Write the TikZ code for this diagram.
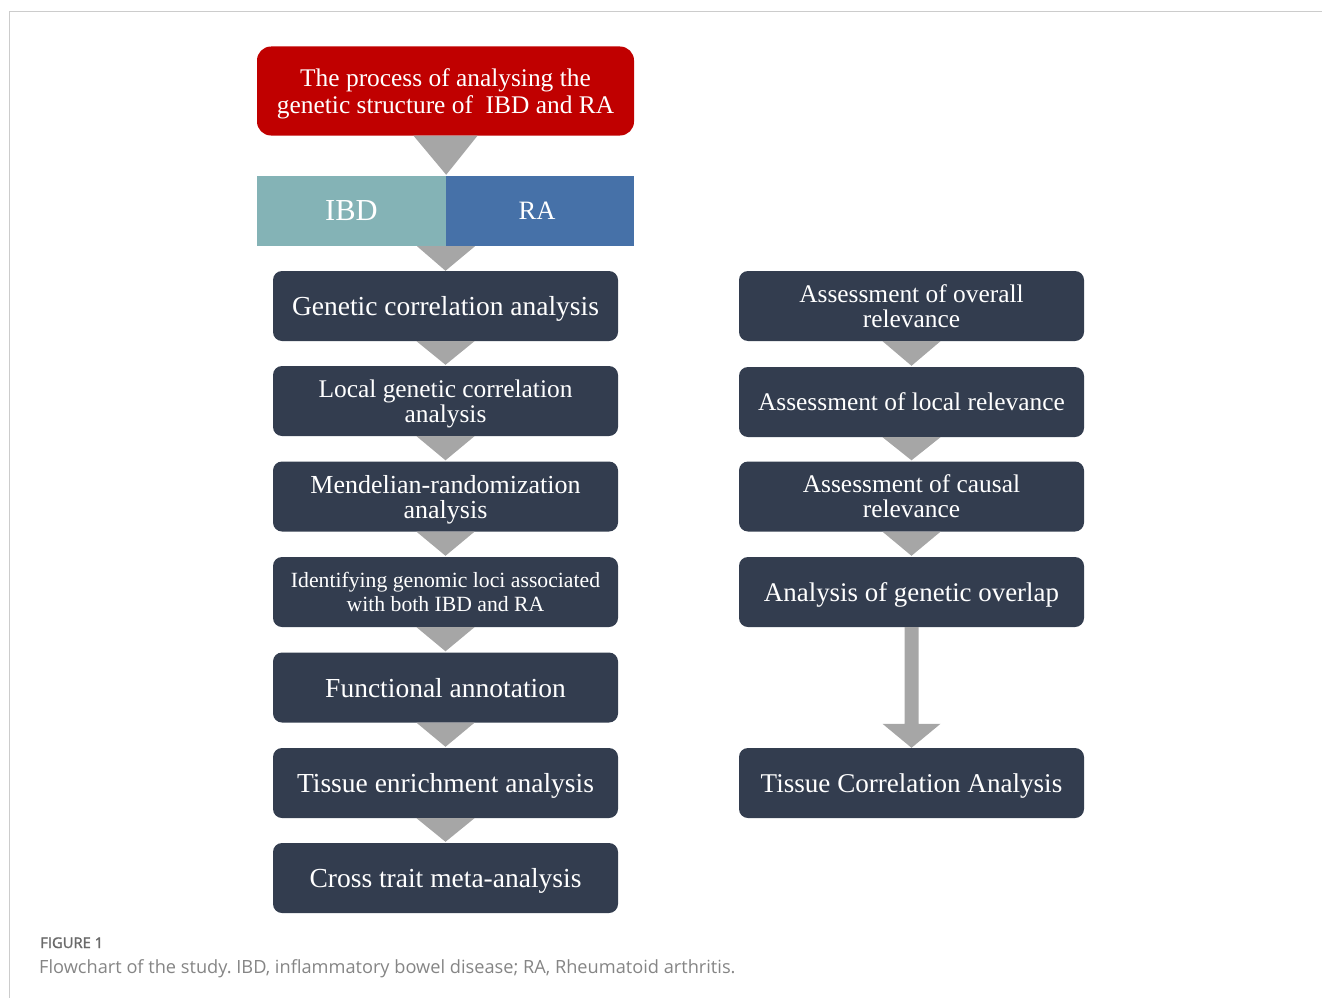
\documentclass[tikz,border=0pt]{standalone}
\usepackage{fontspec}
\setmainfont{Liberation Serif}
\newfontfamily\capfont{Open Sans}
\newfontfamily\figfont[FakeBold=1.6]{Open Sans}
\usetikzlibrary{calc}
\definecolor{topred}{HTML}{C00000}
\definecolor{ibdteal}{HTML}{84B3B6}
\definecolor{rablue}{HTML}{4671A8}
\definecolor{boxdark}{HTML}{333D4F}
\definecolor{arrgray}{HTML}{A6A6A6}
\definecolor{framegray}{HTML}{CCCCCC}
\definecolor{capgray}{HTML}{858585}
\definecolor{figgray}{HTML}{6A6A6A}
\frenchspacing
\begin{document}
\begin{tikzpicture}[x=1pt,y=-1pt,
  stepbox/.style={rectangle, rounded corners=9pt, fill=boxdark, text=white,
    minimum width=345pt, minimum height=70pt, align=center, inner sep=0pt,
    text depth=0pt, font=\fontsize{27.5}{25}\selectfont},
  twoline/.style={font=\fontsize{25.4}{25}\selectfont},
  tri/.style={fill=arrgray}]
\useasboundingbox (0,0) rectangle (1322,998);
\draw[framegray, line width=1pt] (9.5,998) -- (9.5,11.5) -- (1322,11.5);

\node[rectangle, rounded corners=14pt, fill=topred, text=white, minimum width=377pt,
  minimum height=89pt, align=center, inner sep=0pt, text depth=0pt, font=\fontsize{25.4}{27}\selectfont]
  (top) at (445.5,91) {The process of analysing the\\genetic structure of~ IBD and RA};
\node[rectangle, fill=ibdteal, text=white, minimum width=189pt, minimum height=70pt,
  inner sep=0pt, text depth=0pt, font=\fontsize{30.5}{30}\selectfont] (ibd) at (351.5,211) {IBD};
\node[rectangle, fill=rablue, text=white, minimum width=188pt, minimum height=70pt,
  inner sep=0pt, text depth=0pt, font=\fontsize{26.5}{26}\selectfont] (ra) at (540,211) {\hspace*{-6pt}RA};

\node[stepbox] (l1) at (445.5,306) {Genetic correlation analysis};
\node[stepbox, twoline] (l2) at (445.5,401) {Local genetic correlation\\analysis};
\node[stepbox, font=\fontsize{26}{25}\selectfont] (l3) at (445.5,496.5) {Mendelian-randomization\\analysis};
\node[stepbox, font=\fontsize{21.7}{24}\selectfont] (l4) at (445.5,592) {Identifying genomic loci associated\\with both IBD and RA};
\node[stepbox] (l5) at (445.5,687.5) {Functional annotation};
\node[stepbox] (l6) at (445.5,783) {Tissue enrichment analysis};
\node[stepbox] (l7) at (445.5,878) {Cross trait meta-analysis};

\node[stepbox, twoline] (r1) at (911.5,306) {Assessment of overall\\relevance};
\node[stepbox, twoline] (r2) at (911.5,402) {Assessment of local relevance};
\node[stepbox, twoline] (r3) at (911.5,496.5) {Assessment of causal\\relevance};
\node[stepbox, font=\fontsize{26.9}{25}\selectfont] (r4) at (911.5,592) {Analysis of genetic overlap};
\node[stepbox, font=\fontsize{27.1}{25}\selectfont] (r5) at (911.5,783) {Tissue Correlation Analysis};

% triangles
\fill[tri] ($(top.south)+(-32,0)$) -- ($(top.south)+(32,0)$) -- ($(ibd.north east)+(0,-1)$) -- cycle;
\coordinate (ir) at ($(ibd.south east)!0.5!(ra.south west)$);
\fill[tri] ($(ir)+(-29,0)$) -- ($(ir)+(29,0)$) -- (l1.north) -- cycle;
\foreach \a/\b in {l1/l2,l2/l3,l3/l4,l4/l5,l5/l6,l6/l7,r1/r2,r2/r3,r3/r4}{
  \fill[tri] ($(\a.south)+(-29,0)$) -- ($(\a.south)+(29,0)$) -- ($(\b.north)+(0,-1)$) -- cycle;
}
% long arrow
\fill[tri] ($(r4.south)+(-7,0)$) -- ($(r4.south)+(7,0)$) -- ($(r5.north)+(7,-24)$)
  -- ($(r5.north)+(29,-24)$) -- (r5.north) -- ($(r5.north)+(-29,-24)$)
  -- ($(r5.north)+(-7,-24)$) -- cycle;

\node[anchor=base west, inner sep=0pt, text=figgray, font=\figfont\fontsize{14.8}{15}\selectfont] (figlab) at (40,948) {FIGURE 1};
\node[anchor=base west, inner sep=0pt, text=capgray, font=\capfont\fontsize{18.2}{18}\selectfont] (cap) at (39,973) {Flowchart of the study. IBD, inflammatory bowel disease; RA, Rheumatoid arthritis.};
\end{tikzpicture}
\end{document}
